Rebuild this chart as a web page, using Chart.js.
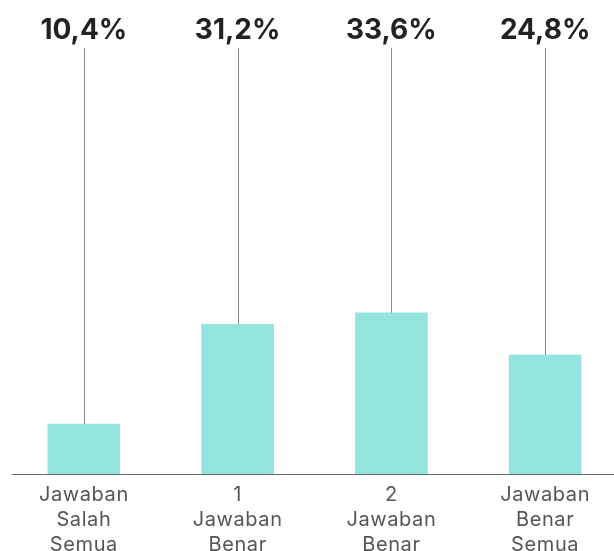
<!DOCTYPE html>
<html><head><meta charset="utf-8">
<script src="https://cdn.jsdelivr.net/npm/chart.js@4"></script>
<style>html,body{margin:0;padding:0;overflow:hidden;background:#fff}#wrap{width:630px;height:565px}</style>
</head><body><div id="wrap"><canvas id="c" width="630" height="565"></canvas></div>
<script>
const categories = [["Jawaban","Salah","Semua"],["1","Jawaban","Benar"],["2","Jawaban","Benar"],["Jawaban","Benar","Semua"]];
const values = [10.4, 31.2, 33.6, 24.8];
const valueLabels = ["10,4%", "31,2%", "33,6%", "24,8%"];

const spacingPlugin = {
  id: 'spacing',
  beforeDraw(chart) { chart.ctx.letterSpacing = '0.6px'; }
};

const leaderPlugin = {
  id: 'leaders',
  afterDatasetsDraw(chart) {
    const ctx = chart.ctx, area = chart.chartArea;
    const meta = chart.getDatasetMeta(0);
    ctx.save();
    ctx.letterSpacing = '0px';
    ctx.strokeStyle = '#666';
    ctx.lineWidth = 1;
    ctx.beginPath();
    ctx.moveTo(12, Math.round(area.bottom) + 0.5);
    ctx.lineTo(chart.width, Math.round(area.bottom) + 0.5);
    ctx.stroke();
    meta.data.forEach((bar, i) => {
      const x = Math.round(bar.x) + 0.5;
      ctx.strokeStyle = '#8a8a8a';
      ctx.beginPath();
      ctx.moveTo(x, area.top);
      ctx.lineTo(x, bar.y);
      ctx.stroke();
      ctx.fillStyle = '#222';
      ctx.font = 'bold 28px Inter, "Noto Sans", sans-serif';
      ctx.textAlign = 'center';
      ctx.textBaseline = 'alphabetic';
      ctx.fillText(valueLabels[i], bar.x, area.top - 9);
    });
    ctx.restore();
  }
};

new Chart(document.getElementById('c'), {
  type: 'bar',
  data: {
    labels: categories,
    datasets: [{
      data: values,
      backgroundColor: 'rgb(147,228,222)',
      borderWidth: 0,
      barThickness: 72
    }]
  },
  options: {
    responsive: false,
    animation: false,
    devicePixelRatio: 1,
    layout: { padding: { left: 7, right: 8, top: 48, bottom: 0 } },
    plugins: { legend: { display: false }, tooltip: { enabled: false } },
    scales: {
      x: {
        grid: { display: false, drawTicks: false },
        border: { display: false },
        ticks: { color: '#555', padding: 8, font: { family: 'Inter, "Open Sans", sans-serif', size: 20, lineHeight: 1.25 } }
      },
      y: { display: false, min: 0, max: 88.75 }
    }
  },
  plugins: [spacingPlugin, leaderPlugin]
});
</script>
</body></html>
